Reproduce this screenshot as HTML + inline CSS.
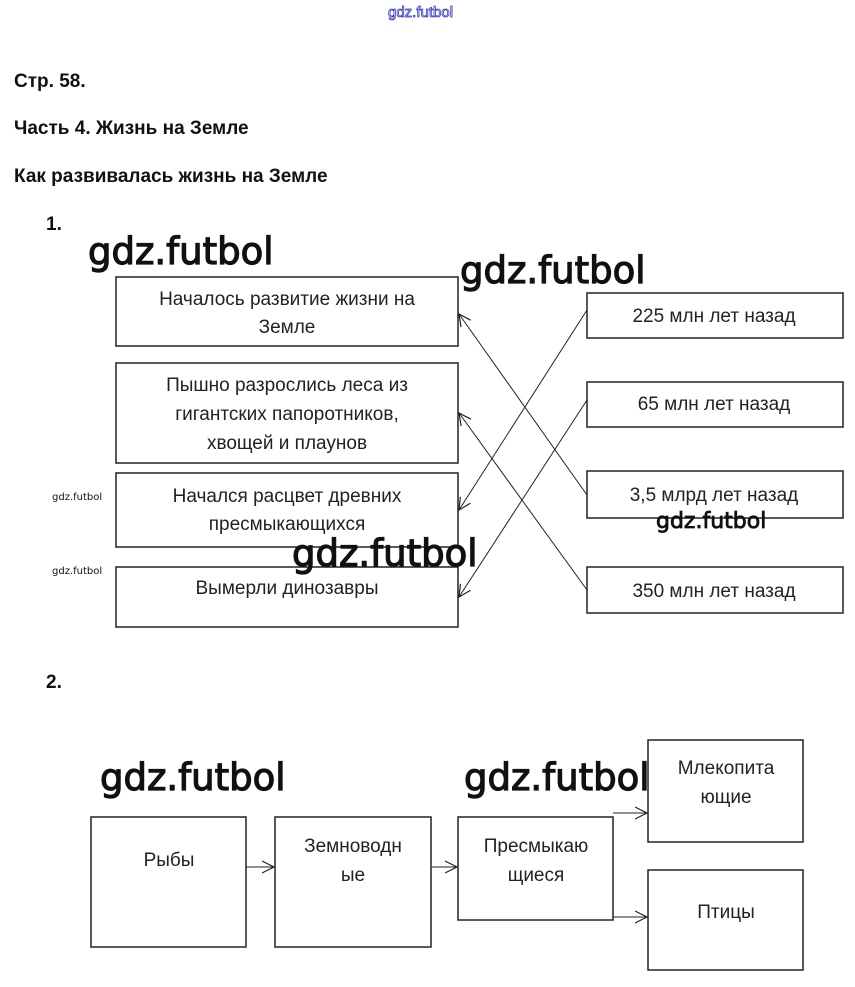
<!DOCTYPE html>
<html><head><meta charset="utf-8"><style>
html,body{margin:0;padding:0;background:#fff;}
svg{display:block;}
.h{font-family:"Liberation Sans",sans-serif;font-weight:bold;font-size:19px;fill:#111;}
.t{font-family:"Liberation Sans",sans-serif;font-size:19px;fill:#222;}
.w{font-family:"DejaVu Sans","Liberation Sans",sans-serif;font-size:37px;fill:#111;stroke:#111;stroke-width:1.2;}
.ws{font-family:"DejaVu Sans","Liberation Sans",sans-serif;font-size:10px;fill:#111;}
</style></head><body>
<svg width="855" height="987" xmlns="http://www.w3.org/2000/svg">
<defs><marker id="a" markerWidth="14" markerHeight="14" refX="12" refY="7" orient="auto" markerUnits="userSpaceOnUse"><path d="M0,1 L12,7 L0,13" fill="none" stroke="#222" stroke-width="1.2"/></marker></defs>
<text x="388" y="17" font-family="Liberation Sans,sans-serif" font-size="15" fill="#fff" stroke="#33c" stroke-width="0.8">gdz.futbol</text>
<text class="h" x="14" y="87">Стр. 58.</text>
<text class="h" x="14" y="134">Часть 4. Жизнь на Земле</text>
<text class="h" x="14" y="182">Как развивалась жизнь на Земле</text>
<text class="h" x="46" y="230">1.</text>
<text class="h" x="46" y="688">2.</text>
<g fill="none" stroke="#222" stroke-width="1.5">
<rect x="116" y="277" width="342" height="69"/>
<rect x="116" y="363" width="342" height="100"/>
<rect x="116" y="473" width="342" height="74"/>
<rect x="116" y="567" width="342" height="60"/>
<rect x="587" y="293" width="256" height="45"/>
<rect x="587" y="382" width="256" height="45"/>
<rect x="587" y="471" width="256" height="47"/>
<rect x="587" y="567" width="256" height="46"/>
<rect x="91" y="817" width="155" height="130"/>
<rect x="275" y="817" width="156" height="130"/>
<rect x="458" y="817" width="155" height="103"/>
<rect x="648" y="740" width="155" height="102"/>
<rect x="648" y="870" width="155" height="100"/>
</g>
<g stroke="#222" stroke-width="1" marker-end="url(#a)">
<line x1="587" y1="310" x2="459" y2="510"/>
<line x1="587" y1="400" x2="459" y2="597"/>
<line x1="587" y1="495" x2="459" y2="314"/>
<line x1="587" y1="590" x2="459" y2="413"/>
<line x1="246" y1="867" x2="274" y2="867"/>
<line x1="431" y1="867" x2="457" y2="867"/>
<line x1="613" y1="813" x2="647" y2="813"/>
<line x1="613" y1="917" x2="647" y2="917"/>
</g>
<g class="t" text-anchor="middle">
<text x="287" y="305">Началось развитие жизни на</text>
<text x="287" y="333">Земле</text>
<text x="287" y="391">Пышно разрослись леса из</text>
<text x="287" y="420">гигантских папоротников,</text>
<text x="287" y="449">хвощей и плаунов</text>
<text x="287" y="502">Начался расцвет древних</text>
<text x="287" y="530">пресмыкающихся</text>
<text x="287" y="594">Вымерли динозавры</text>
<text x="714" y="322">225 млн лет назад</text>
<text x="714" y="410">65 млн лет назад</text>
<text x="714" y="501">3,5 млрд лет назад</text>
<text x="714" y="597">350 млн лет назад</text>
<text x="169" y="866">Рыбы</text>
<text x="353" y="852">Земноводн</text>
<text x="353" y="881">ые</text>
<text x="536" y="852">Пресмыкаю</text>
<text x="536" y="881">щиеся</text>
<text x="726" y="774">Млекопита</text>
<text x="726" y="803">ющие</text>
<text x="726" y="918">Птицы</text>
</g>
<text class="w" x="88" y="264">gdz.futbol</text>
<text class="w" x="460" y="283">gdz.futbol</text>
<text class="w" x="292" y="566">gdz.futbol</text>
<text class="w" x="100" y="790">gdz.futbol</text>
<text class="w" x="464" y="790">gdz.futbol</text>
<text x="656" y="528" font-family="DejaVu Sans,sans-serif" font-size="22" fill="#111" stroke="#111" stroke-width="0.8">gdz.futbol</text>
<text class="ws" x="52" y="500">gdz.futbol</text>
<text class="ws" x="52" y="574">gdz.futbol</text>
</svg>
</body></html>
